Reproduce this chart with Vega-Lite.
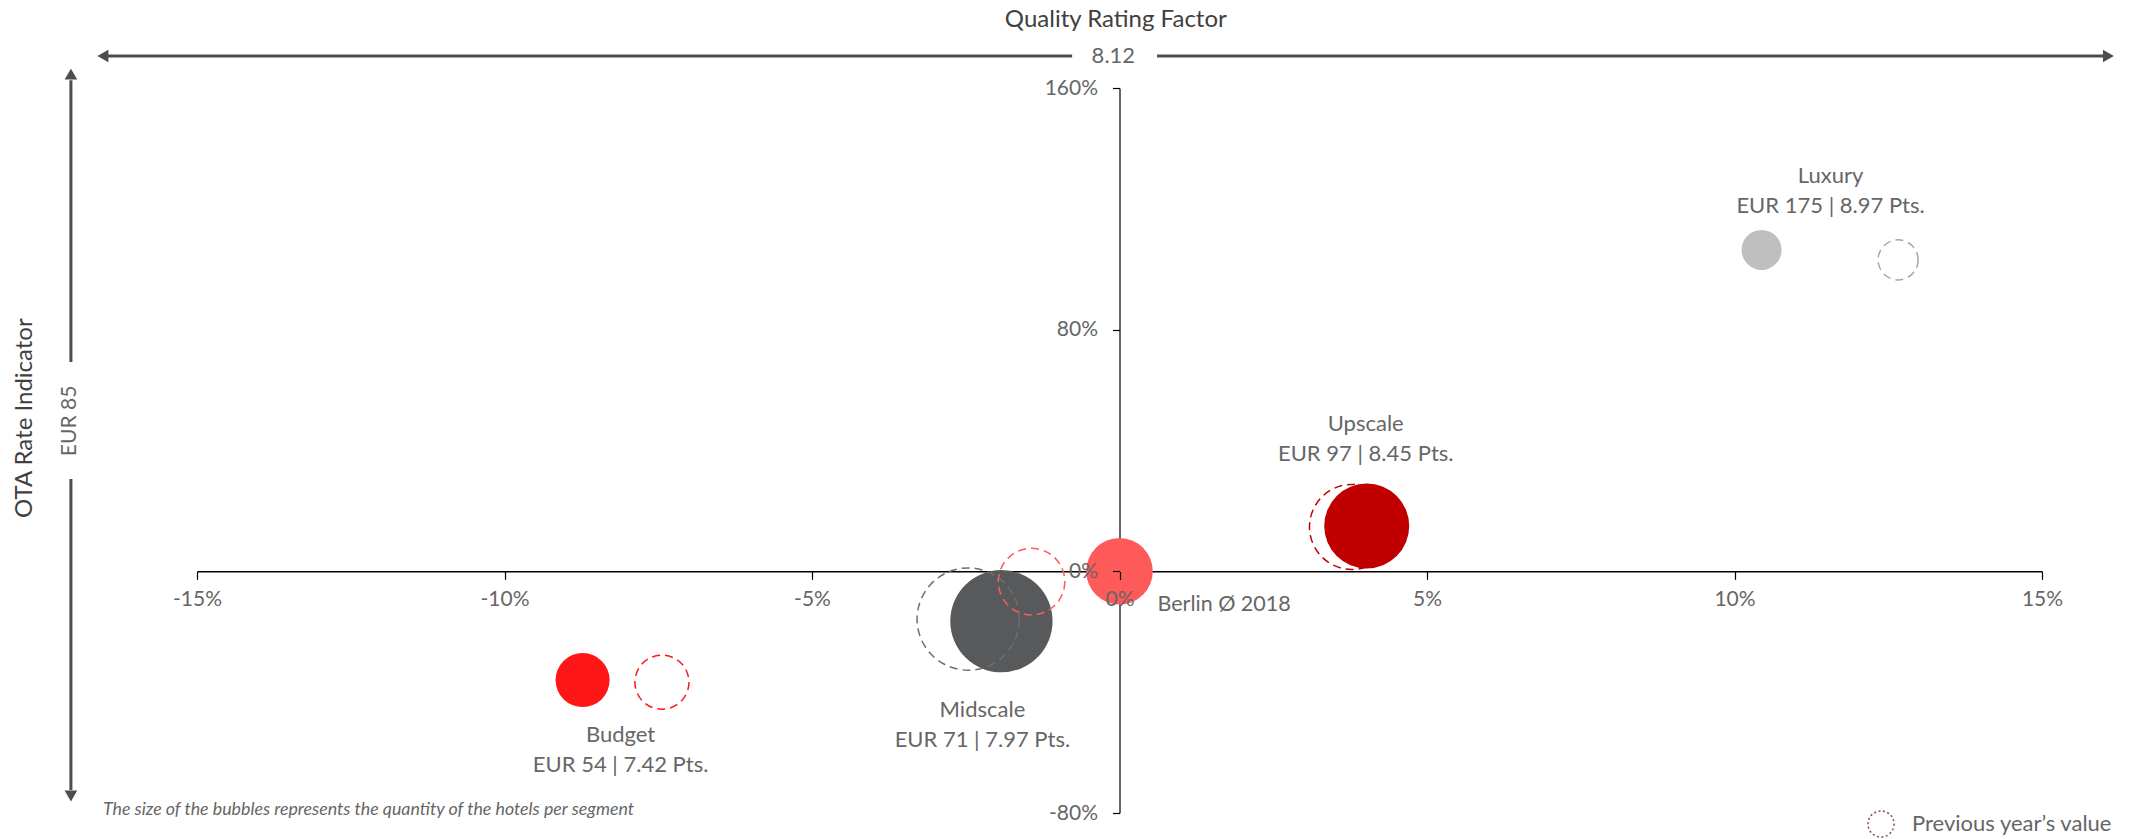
{
  "$schema": "https://vega.github.io/schema/vega-lite/v6.json",
  "width": 1845,
  "height": 725,
  "autosize": {"type": "none"},
  "padding": {"left": 197, "top": 88, "right": 96, "bottom": 26},
  "background": "white",
  "config": {"view": {"stroke": null}, "font": "Lato"},
  "resolve": {"axis": {"x": "independent", "y": "independent"}},
  "datasets": {
    "segments": [
      {"segment": "Budget", "x": -8.73, "y": -36.0, "px": -7.44, "py": -36.7, "hotels": 93, "label": ["Budget", "EUR 54 | 7.42 Pts."]},
      {"segment": "Midscale", "x": -1.92, "y": -16.5, "px": -2.46, "py": -15.8, "hotels": 333, "label": ["Midscale", "EUR 71 | 7.97 Pts."]},
      {"segment": "Berlin Ø 2018", "x": 0, "y": 0, "px": -1.43, "py": -3.4, "hotels": 141, "label": ["Berlin Ø 2018"]},
      {"segment": "Upscale", "x": 4.02, "y": 15.0, "px": 3.78, "py": 14.7, "hotels": 230, "label": ["Upscale", "EUR 97 | 8.45 Pts."]},
      {"segment": "Luxury", "x": 10.44, "y": 106.4, "px": 12.66, "py": 103.1, "hotels": 51, "label": ["Luxury", "EUR 175 | 8.97 Pts."]}
    ]
  },
  "data": {"name": "segments"},
  "layer": [
    {
      "mark": {"type": "circle", "opacity": 1},
      "encoding": {
        "x": {
          "field": "x", "type": "quantitative", "title": null,
          "scale": {"domain": [-15, 15], "nice": false, "zero": false},
          "axis": {
            "orient": "bottom", "offset": -241.67, "title": null, "grid": false,
            "labels": false, "ticks": false, "zindex": 0,
            "domainColor": "#000000", "domainWidth": 1.5
          }
        },
        "y": {
          "field": "y", "type": "quantitative", "title": null,
          "scale": {"domain": [-80, 160], "nice": false, "zero": false},
          "axis": {
            "orient": "left", "offset": -922.5, "title": null, "grid": false,
            "labels": false, "ticks": false, "zindex": 0,
            "domainColor": "#000000", "domainWidth": 1.2
          }
        },
        "size": {"field": "hotels", "type": "quantitative", "scale": {"type": "linear", "domain": [0, 333], "range": [0, 10459]}, "legend": null},
        "fill": {
          "field": "segment", "type": "nominal",
          "scale": {"domain": ["Budget", "Midscale", "Berlin Ø 2018", "Upscale", "Luxury"], "range": ["#FF1717", "#58595B", "#FF5A5A", "#C00000", "#BFBFBF"]},
          "legend": null
        }
      }
    },
    {
      "mark": {"type": "point", "filled": false, "opacity": 1, "strokeWidth": 1.5, "strokeDash": [8, 5]},
      "encoding": {
        "x": {"field": "px", "type": "quantitative", "title": null, "axis": null},
        "y": {"field": "py", "type": "quantitative", "title": null, "axis": null},
        "size": {"field": "hotels", "type": "quantitative", "legend": null},
        "stroke": {
          "field": "segment", "type": "nominal",
          "scale": {"domain": ["Budget", "Midscale", "Berlin Ø 2018", "Upscale", "Luxury"], "range": ["#FF1717", "#6E6E6E", "#FF5A5A", "#C00000", "#A6A6A6"]},
          "legend": null
        },
        "shape": {
          "datum": "Previous year’s value",
          "scale": {"range": ["circle"]},
          "legend": {
            "orient": "none", "legendX": 1670, "legendY": 722, "title": null, "padding": 0,
            "symbolType": "circle", "symbolSize": 680, "symbolStrokeWidth": 1.5,
            "symbolDash": [2, 2.5], "symbolFillColor": "transparent", "symbolStrokeColor": "#7f4f4f",
            "labelFont": "Lato", "labelFontWeight": 400, "labelFontSize": 22, "labelColor": "#666666",
            "labelOffset": 17, "labelLimit": 400
          }
        }
      }
    },
    {
      "transform": [{"filter": "datum.segment === 'Luxury'"}],
      "mark": {"type": "text", "align": "center", "baseline": "middle", "dx": 69, "dy": -74, "lineHeight": 30, "font": "Lato", "fontWeight": 400, "fontSize": 22, "color": "#666666"},
      "encoding": {"x": {"field": "x", "type": "quantitative", "title": null, "axis": null}, "y": {"field": "y", "type": "quantitative", "title": null, "axis": null}, "text": {"field": "label"}}
    },
    {
      "transform": [{"filter": "datum.segment === 'Upscale'"}],
      "mark": {"type": "text", "align": "center", "baseline": "middle", "dx": -1, "dy": -102, "lineHeight": 30, "font": "Lato", "fontWeight": 400, "fontSize": 22, "color": "#666666"},
      "encoding": {"x": {"field": "x", "type": "quantitative", "title": null, "axis": null}, "y": {"field": "y", "type": "quantitative", "title": null, "axis": null}, "text": {"field": "label"}}
    },
    {
      "transform": [{"filter": "datum.segment === 'Budget'"}],
      "mark": {"type": "text", "align": "center", "baseline": "middle", "dx": 38, "dy": 55, "lineHeight": 30, "font": "Lato", "fontWeight": 400, "fontSize": 22, "color": "#666666"},
      "encoding": {"x": {"field": "x", "type": "quantitative", "title": null, "axis": null}, "y": {"field": "y", "type": "quantitative", "title": null, "axis": null}, "text": {"field": "label"}}
    },
    {
      "transform": [{"filter": "datum.segment === 'Midscale'"}],
      "mark": {"type": "text", "align": "center", "baseline": "middle", "dx": -19, "dy": 89, "lineHeight": 30, "font": "Lato", "fontWeight": 400, "fontSize": 22, "color": "#666666"},
      "encoding": {"x": {"field": "x", "type": "quantitative", "title": null, "axis": null}, "y": {"field": "y", "type": "quantitative", "title": null, "axis": null}, "text": {"field": "label"}}
    },
    {
      "transform": [{"filter": "datum.segment === 'Berlin Ø 2018'"}],
      "mark": {"type": "text", "align": "left", "baseline": "middle", "dx": 38, "dy": 34, "font": "Lato", "fontWeight": 400, "fontSize": 21.5, "color": "#666666"},
      "encoding": {
        "x": {
          "field": "x", "type": "quantitative", "title": null,
          "axis": {
            "orient": "bottom", "offset": -241.67, "title": null, "grid": false,
            "domain": false, "zindex": 1,
            "values": [-15, -10, -5, 0, 5, 10, 15],
            "labelExpr": "datum.value + '%'",
            "labelFlush": false, "labelOverlap": false,
            "tickColor": "#000000", "tickWidth": 1.2, "tickSize": 8,
            "labelFont": "Lato", "labelFontWeight": 400, "labelFontSize": 21,
            "labelColor": "#666666", "labelPadding": 9
          }
        },
        "y": {
          "field": "y", "type": "quantitative", "title": null,
          "axis": {
            "orient": "left", "offset": -922.5, "title": null, "grid": false,
            "domain": false, "zindex": 1,
            "values": [-80, 0, 80, 160],
            "labelExpr": "datum.value + '%'",
            "labelFlush": false, "labelOverlap": false,
            "tickColor": "#000000", "tickWidth": 1.2, "tickSize": 7,
            "labelFont": "Lato", "labelFontWeight": 400, "labelFontSize": 21,
            "labelColor": "#666666", "labelPadding": 15
          }
        },
        "text": {"field": "label"}
      }
    },
    {
      "data": {"values": [{}]},
      "layer": [
        {"mark": {"type": "rule", "color": "#4D4D4D", "strokeWidth": 3}, "encoding": {"x": {"datum": -16.45, "axis": null}, "x2": {"datum": -0.77}, "y": {"datum": 170.6, "axis": null}}},
        {"mark": {"type": "rule", "color": "#4D4D4D", "strokeWidth": 3}, "encoding": {"x": {"datum": 0.61, "axis": null}, "x2": {"datum": 16.0}, "y": {"datum": 170.6, "axis": null}}},
        {"mark": {"type": "point", "shape": "triangle-left", "filled": true, "opacity": 1, "color": "#4D4D4D", "size": 160}, "encoding": {"x": {"datum": -16.53, "axis": null}, "y": {"datum": 170.6, "axis": null}}},
        {"mark": {"type": "point", "shape": "triangle-right", "filled": true, "opacity": 1, "color": "#4D4D4D", "size": 160}, "encoding": {"x": {"datum": 16.08, "axis": null}, "y": {"datum": 170.6, "axis": null}}},
        {"mark": {"type": "rule", "color": "#4D4D4D", "strokeWidth": 3}, "encoding": {"x": {"datum": -17.05, "axis": null}, "y": {"datum": 162.6, "axis": null}, "y2": {"datum": 69.3}}},
        {"mark": {"type": "rule", "color": "#4D4D4D", "strokeWidth": 3}, "encoding": {"x": {"datum": -17.05, "axis": null}, "y": {"datum": 30.55, "axis": null}, "y2": {"datum": -72.4}}},
        {"mark": {"type": "point", "shape": "triangle-up", "filled": true, "opacity": 1, "color": "#4D4D4D", "size": 160}, "encoding": {"x": {"datum": -17.05, "axis": null}, "y": {"datum": 164.6, "axis": null}}},
        {"mark": {"type": "point", "shape": "triangle-down", "filled": true, "opacity": 1, "color": "#4D4D4D", "size": 160}, "encoding": {"x": {"datum": -17.05, "axis": null}, "y": {"datum": -74.4, "axis": null}}},
        {"mark": {"type": "text", "text": "Quality Rating Factor", "align": "center", "baseline": "middle", "font": "Lato", "fontSize": 24, "color": "#404040"}, "encoding": {"x": {"datum": -0.06, "axis": null}, "y": {"datum": 182.5, "axis": null}}},
        {"mark": {"type": "text", "text": "8.12", "align": "center", "baseline": "middle", "font": "Lato", "fontWeight": 400, "fontSize": 22, "color": "#666666"}, "encoding": {"x": {"datum": -0.1, "axis": null}, "y": {"datum": 170.6, "axis": null}}},
        {"mark": {"type": "text", "text": "OTA Rate Indicator", "angle": 270, "align": "center", "baseline": "middle", "font": "Lato", "fontSize": 24, "color": "#404040"}, "encoding": {"x": {"datum": -17.8, "axis": null}, "y": {"datum": 50.7, "axis": null}}},
        {"mark": {"type": "text", "text": "EUR 85", "angle": 270, "align": "center", "baseline": "middle", "font": "Lato", "fontWeight": 400, "fontSize": 21, "color": "#666666"}, "encoding": {"x": {"datum": -17.07, "axis": null}, "y": {"datum": 49.8, "axis": null}}},
        {"mark": {"type": "text", "text": "The size of the bubbles represents the quantity of the hotels per segment", "align": "left", "baseline": "middle", "font": "Lato", "fontStyle": "italic", "fontSize": 17.8, "color": "#666666"}, "encoding": {"x": {"datum": -16.53, "axis": null}, "y": {"datum": -79.0, "axis": null}}}
      ]
    }
  ]
}
